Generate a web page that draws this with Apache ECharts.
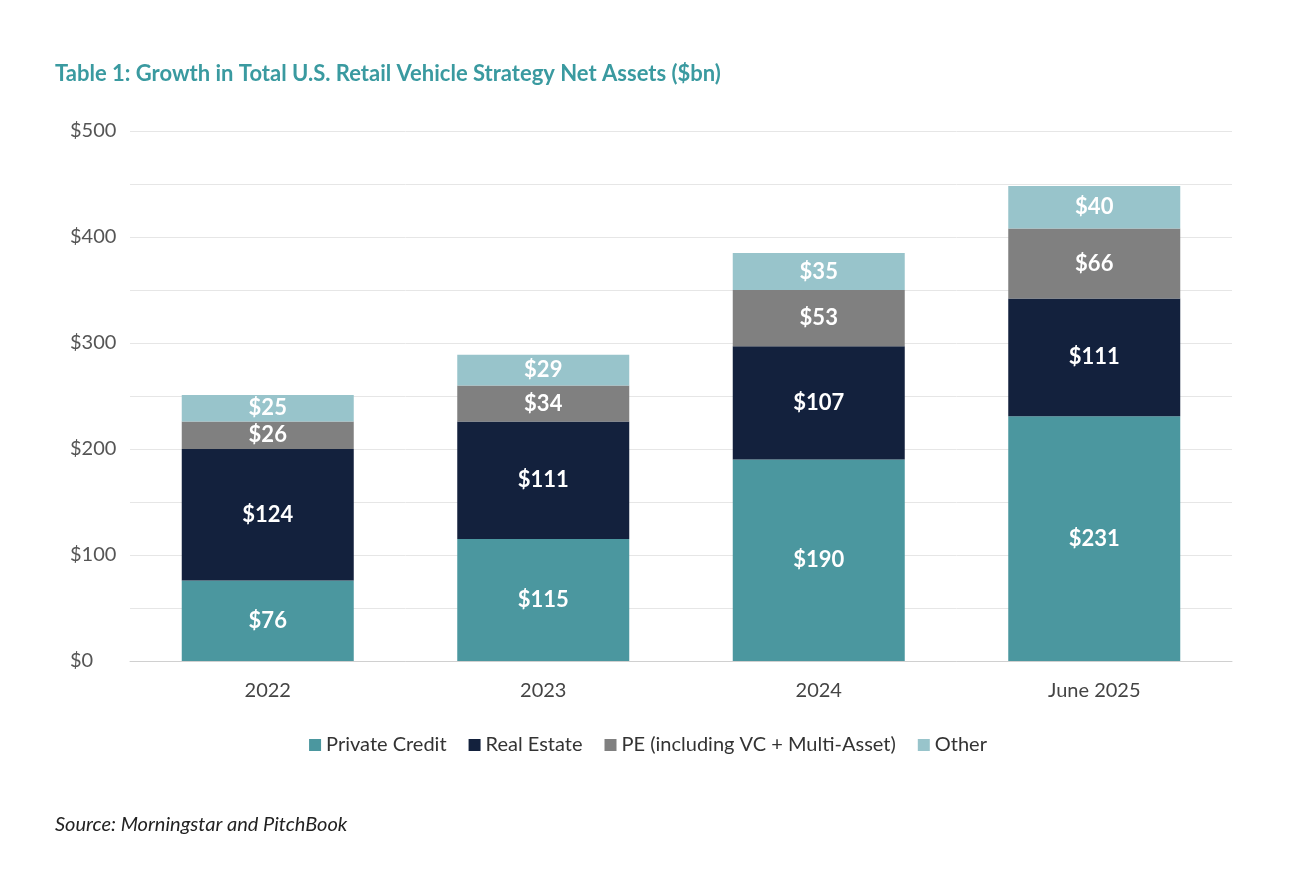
<!DOCTYPE html>
<html><head><meta charset="utf-8">
<script src="https://cdn.jsdelivr.net/npm/echarts@6/dist/echarts.min.js"></script>
<style>body{margin:0;background:#fff}#c{width:1296px;height:870px}</style>
</head><body><div id="c"></div>
<script>
const categories = ['2022','2023','2024','June 2025'];
const privateCredit = [76,115,190,231];
const realEstate = [124,111,107,111];
const pe = [26,34,53,66];
const other = [25,29,35,40];
const seriesNames = ['Private Credit','Real Estate','PE (including VC + Multi-Asset)','Other'];
const colors = ['#4b979f','#13213d','#808080','#98c4cb'];
const data = [privateCredit, realEstate, pe, other];
const chart = echarts.init(document.getElementById('c'));
chart.setOption({
  animation:false,
  title:[{text:'Table 1: Growth in Total U.S. Retail Vehicle Strategy Net Assets ($bn)',left:50,top:58,
    textStyle:{color:'#3a9aa0',fontSize:22,fontWeight:'bold',fontFamily:'Lato'}},
    {text:'Source: Morningstar and PitchBook',left:50,top:810,textStyle:{color:'#222',fontSize:20,fontStyle:'italic',fontWeight:'normal',fontFamily:'Lato'}}],
  legend:{bottom:110,left:'center',itemWidth:12,itemHeight:12,itemGap:22,icon:'rect',
    textStyle:{fontSize:20,color:'#333',fontFamily:'Lato'}},
  grid:{left:130,right:64,top:131,bottom:209},
  xAxis:{type:'category',data:categories,axisTick:{show:false},
    axisLine:{lineStyle:{color:'#d0d0d0'}},
    axisLabel:{fontSize:20,color:'#444',margin:20,fontFamily:'Lato'}},
  yAxis:{type:'value',min:0,max:500,interval:50,
    axisLabel:{fontSize:20,color:'#555',margin:60,align:'left',fontFamily:'Lato',
      formatter:v=>v%100===0?'$'+v:''},
    splitLine:{lineStyle:{color:'#e6e6e6'}}},
  series:data.map((d,i)=>({name:seriesNames[i],type:'bar',stack:'t',data:d,barWidth:172,
    itemStyle:{color:colors[i]},
    label:{show:true,position:'inside',color:'#fff',fontWeight:'bold',fontSize:22,fontFamily:'Lato',
      formatter:p=>'$'+p.value}}))
});
</script></body></html>
